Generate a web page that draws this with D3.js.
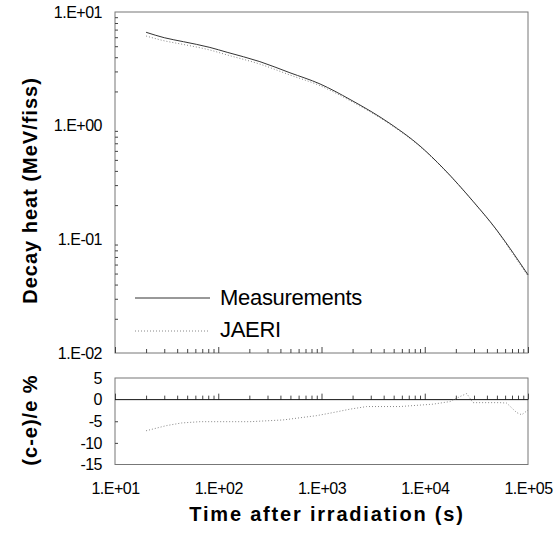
<!DOCTYPE html>
<html>
<head>
<meta charset="utf-8">
<title>Decay heat</title>
<style>
  body { margin: 0; background: #fff; }
  text { font-family: "Liberation Sans", Arial, sans-serif; }
</style>
</head>
<body>
<script src="https://d3js.org/d3.v7.min.js"></script>
<script>
// top panel: decay heat (MeV/fiss)
var times    = [20, 30, 46, 83, 122, 253, 495, 966, 1890, 4600, 8990, 15100, 29500, 49700, 72100, 100000];
var measured = [6.63, 5.94, 5.48, 4.88, 4.42, 3.66, 2.92, 2.33, 1.70, 1.045, 0.663, 0.422, 0.215, 0.121, 0.0755, 0.0487];
var jaeri    = [6.15, 5.58, 5.18, 4.63, 4.19, 3.48, 2.79, 2.25, 1.66, 1.028, 0.655, 0.419, 0.2135, 0.120, 0.0735, 0.0475];

// bottom panel: (c-e)/e %
var devTimes  = [20, 31.6, 44, 66.5, 139, 203, 424, 898, 1290, 1890, 2740, 3950, 5760, 12000, 17600, 21900, 25500, 29300, 53500, 62200, 77700, 86900, 100000];
var devValues = [-7.2, -6.0, -5.4, -5.1, -5.1, -5.1, -4.7, -3.7, -3.0, -2.2, -1.6, -1.6, -1.6, -1.05, -0.45, 0.7, 1.4, -0.7, -0.7, -0.8, -3.0, -3.5, -2.4];

var xTickLabels   = ["1.E+01", "1.E+02", "1.E+03", "1.E+04", "1.E+05"];
var yTickLabels   = ["1.E+01", "1.E+00", "1.E-01", "1.E-02"];
var devTickLabels = ["5", "0", "-5", "-10", "-15"];

var W = 556, H = 533;
var left = 115, right = 528,
    topY = 12, topB = 353,
    botT = 378, botB = 464.5;

var svg = d3.select("body").append("svg")
    .attr("width", W).attr("height", H);

var x = d3.scaleLog().domain([10, 1e5]).range([left, right]);
var yTop = d3.scaleLog().domain([0.01, 10]).range([topB, topY]);
var yBot = d3.scaleLinear().domain([-15, 5]).range([botB, botT]);

var majorX = [10, 100, 1000, 10000, 100000];
var minorX = x.ticks().filter(function(d){ return majorX.indexOf(d) < 0; });
var majorY = [10, 1, 0.1, 0.01];
var minorY = yTop.ticks().filter(function(d){ return majorY.indexOf(d) < 0; });

function clean(g) {
  g.select(".domain").remove();
  g.selectAll("line").attr("stroke", "#444");
}

// frames
svg.append("rect")
    .attr("x", left).attr("y", topY)
    .attr("width", right - left).attr("height", topB - topY)
    .attr("fill", "none").attr("stroke", "#777");
svg.append("rect")
    .attr("x", left).attr("y", botT)
    .attr("width", right - left).attr("height", botB - botT)
    .attr("fill", "none").attr("stroke", "#777");

// x ticks, inward on the top panel bottom edge
svg.append("g").attr("transform", "translate(0," + topB + ")")
    .call(d3.axisTop(x).tickValues(minorX).tickSize(4).tickFormat(""))
    .call(clean);
svg.append("g").attr("transform", "translate(0," + topB + ")")
    .call(d3.axisTop(x).tickValues(majorX).tickSize(6).tickFormat(""))
    .call(clean);

// x ticks on the zero line of bottom panel
svg.append("g").attr("transform", "translate(0," + yBot(0) + ")")
    .call(d3.axisTop(x).tickValues(minorX).tickSize(4).tickFormat(""))
    .call(clean);
svg.append("g").attr("transform", "translate(0," + yBot(0) + ")")
    .call(d3.axisTop(x).tickValues(majorX).tickSize(6).tickFormat(""))
    .call(clean);

// zero line
svg.append("line")
    .attr("x1", left).attr("x2", right)
    .attr("y1", yBot(0)).attr("y2", yBot(0))
    .attr("stroke", "#111");

// y ticks top panel (inward)
svg.append("g").attr("transform", "translate(" + left + ",0)")
    .call(d3.axisRight(yTop).tickValues(minorY).tickSize(3).tickFormat(""))
    .call(clean);

// y ticks bottom panel
svg.append("g").attr("transform", "translate(" + left + ",0)")
    .call(d3.axisRight(yBot).tickValues([-5, -10]).tickSize(3).tickFormat(""))
    .call(clean);

// tick labels
var xLab = svg.append("g").attr("transform", "translate(0," + botB + ")")
    .call(d3.axisBottom(x).tickValues(majorX).tickSize(0).tickPadding(18)
      .tickFormat(function(d, i){ return xTickLabels[i]; }));
xLab.select(".domain").remove();

var yLab = svg.append("g").attr("transform", "translate(" + left + ",0)")
    .call(d3.axisLeft(yTop).tickValues(majorY).tickSize(0).tickPadding(13)
      .tickFormat(function(d, i){ return yTickLabels[i]; }));
yLab.select(".domain").remove();

var dLab = svg.append("g").attr("transform", "translate(" + left + ",0)")
    .call(d3.axisLeft(yBot).tickValues([5, 0, -5, -10, -15]).tickSize(0).tickPadding(13)
      .tickFormat(function(d, i){ return devTickLabels[i]; }));
dLab.select(".domain").remove();

svg.selectAll(".tick text")
    .attr("font-family", "'Liberation Sans', Arial, sans-serif")
    .attr("font-size", 16)
    .attr("letter-spacing", "-0.5")
    .attr("fill", "#000");

// curves
var lineTop = d3.line()
    .curve(d3.curveMonotoneX)
    .x(function(d){ return x(d[0]); })
    .y(function(d){ return yTop(d[1]); });

svg.append("path")
    .datum(d3.zip(times, jaeri))
    .attr("d", lineTop)
    .attr("fill", "none")
    .attr("stroke", "#888")
    .attr("stroke-width", 1)
    .attr("stroke-dasharray", "1,2");

svg.append("path")
    .datum(d3.zip(times, measured))
    .attr("d", lineTop)
    .attr("fill", "none")
    .attr("stroke", "#333")
    .attr("stroke-width", 1);

var lineBot = d3.line()
    .x(function(d){ return x(d[0]); })
    .y(function(d){ return yBot(d[1]); });

svg.append("path")
    .datum(d3.zip(devTimes, devValues))
    .attr("d", lineBot)
    .attr("fill", "none")
    .attr("stroke", "#888")
    .attr("stroke-width", 1)
    .attr("stroke-dasharray", "1,2");

// legend
var legend = svg.append("g");
legend.append("line")
    .attr("x1", 135).attr("x2", 210).attr("y1", 298).attr("y2", 298)
    .attr("stroke", "#333");
legend.append("text")
    .attr("x", 220).attr("y", 305)
    .attr("font-size", 22).attr("letter-spacing", "-0.3")
    .text("Measurements");
legend.append("line")
    .attr("x1", 135).attr("x2", 210).attr("y1", 331).attr("y2", 331)
    .attr("stroke", "#888").attr("stroke-dasharray", "1,2");
legend.append("text")
    .attr("x", 220).attr("y", 337)
    .attr("font-size", 22).attr("letter-spacing", "-0.3")
    .text("JAERI");

// axis titles
svg.append("text")
    .attr("transform", "translate(37," + ((topY + topB) / 2 + 8) + ") rotate(-90)")
    .attr("text-anchor", "middle")
    .attr("font-size", 20).attr("font-weight", "bold")
    .attr("letter-spacing", "1")
    .text("Decay heat (MeV/fiss)");

svg.append("text")
    .attr("transform", "translate(37,420) rotate(-90)")
    .attr("text-anchor", "middle")
    .attr("font-size", 20).attr("font-weight", "bold")
    .attr("letter-spacing", "1")
    .text("(c-e)/e %");

svg.append("text")
    .attr("x", 327).attr("y", 521)
    .attr("text-anchor", "middle")
    .attr("font-size", 20).attr("font-weight", "bold")
    .attr("letter-spacing", "1.8")
    .text("Time after irradiation (s)");
</script>
</body>
</html>
